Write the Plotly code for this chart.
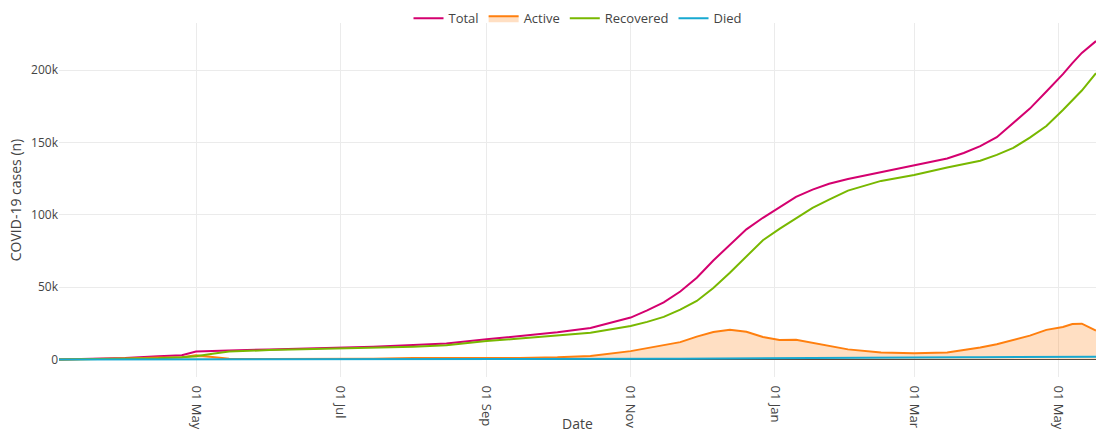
import plotly.graph_objects as go

# sampled dates (roughly weekly / bi-weekly)
dates = [
    "2020-03-04", "2020-03-15", "2020-04-01", "2020-04-15", "2020-04-25",
    "2020-05-01", "2020-05-08", "2020-05-15", "2020-06-01", "2020-06-15",
    "2020-07-01", "2020-07-15", "2020-08-01", "2020-08-15", "2020-09-01",
    "2020-09-15", "2020-10-01", "2020-10-15", "2020-11-01", "2020-11-08",
    "2020-11-15", "2020-11-22", "2020-11-29", "2020-12-06", "2020-12-13",
    "2020-12-20", "2020-12-27", "2021-01-03", "2021-01-10", "2021-01-17",
    "2021-01-24", "2021-02-01", "2021-02-15", "2021-03-01", "2021-03-15",
    "2021-03-22", "2021-03-29", "2021-04-05", "2021-04-12", "2021-04-19",
    "2021-04-26", "2021-05-03", "2021-05-07", "2021-05-11", "2021-05-17",
]

total = [
    0, 300, 1000, 2200, 3000,
    5500, 6000, 6300, 7000, 7500,
    8200, 8800, 10000, 11000, 14000,
    16300, 18800, 21800, 29000, 34000,
    39500, 47000, 56500, 68500, 79500,
    90000, 98000, 105500, 112500, 117500,
    121500, 124800, 129500, 134000, 139000,
    142800, 147500, 153700, 163500, 173500,
    185300, 197300, 205000, 212000, 220200,
]

active = [
    0, 200, 700, 1400, 1500,
    3000, 1800, 600, 300, 300,
    400, 600, 1000, 1000, 800,
    1000, 1500, 2500, 5800, 7800,
    9800, 12000, 15800, 19000, 20600,
    19200, 15600, 13500, 13600, 11400,
    9500, 7000, 4800, 4300, 4900,
    6500, 8300, 10500, 13500, 16500,
    20500, 22500, 24500, 24800, 20000,
]

recovered = [
    0, 100, 300, 800, 1500,
    2200, 4000, 5500, 6500, 7000,
    7600, 8000, 8800, 9800, 12800,
    14500, 16500, 18500, 23200, 26000,
    29500, 34500, 40500, 49500, 60000,
    71000, 82500, 90300, 97500, 104800,
    110500, 116800, 123500, 127600, 132800,
    135300, 137400, 141500, 146300, 153400,
    161500, 172500, 179500, 186000, 198000,
]

died = [
    0, 0, 10, 30, 50,
    60, 70, 80, 100, 120,
    140, 160, 180, 200, 220,
    250, 280, 320, 400, 450,
    500, 560, 650, 720, 800,
    880, 950, 1050, 1120, 1200,
    1260, 1320, 1420, 1500, 1560,
    1600, 1640, 1680, 1720, 1760,
    1800, 1840, 1860, 1880, 1900,
]

fig = go.Figure()
fig.add_trace(go.Scatter(x=dates, y=total, name="Total", mode="lines",
                         line=dict(color="#d4006f", width=2)))
fig.add_trace(go.Scatter(x=dates, y=active, name="Active", mode="lines",
                         fill="tozeroy", fillcolor="rgba(255,127,14,0.25)",
                         line=dict(color="#ff7f0e", width=2)))
fig.add_trace(go.Scatter(x=dates, y=recovered, name="Recovered", mode="lines",
                         line=dict(color="#78b800", width=2)))
fig.add_trace(go.Scatter(x=dates, y=died, name="Died", mode="lines",
                         line=dict(color="#17a9d1", width=2)))

fig.update_layout(
    width=1109, height=444,
    template="none",
    paper_bgcolor="white", plot_bgcolor="white",
    font=dict(family="Open Sans, sans-serif", size=13, color="#444"),
    margin=dict(l=59, r=13, t=23, b=67, autoexpand=False),
    legend=dict(orientation="h", x=0.5, xanchor="center",
                y=1.013, yanchor="middle", bgcolor="rgba(0,0,0,0)"),
    xaxis=dict(title=dict(text="Date", font=dict(size=14)),
               tickformat="%d %b", tickangle=90,
               dtick="M2", tick0="2020-05-01", automargin=False,
               range=["2020-03-04", "2021-05-17"],
               showgrid=True, gridcolor="#ebebeb", zeroline=False,
               showline=False, ticks="outside", ticklen=5,
               tickcolor="rgba(0,0,0,0)"),
    yaxis=dict(title=dict(text="COVID-19 cases (n)", font=dict(size=14)),
               range=[-12100, 232700],
               automargin=False, tickfont=dict(size=12),
               showgrid=True, gridcolor="#ebebeb",
               zeroline=True, zerolinecolor="#444", zerolinewidth=1,
               showline=False, ticks=""),
)

fig.write_html("out.html", config={"displayModeBar": False},
               post_script="document.body.style.margin='0';"
                           "document.body.style.padding='0';")
